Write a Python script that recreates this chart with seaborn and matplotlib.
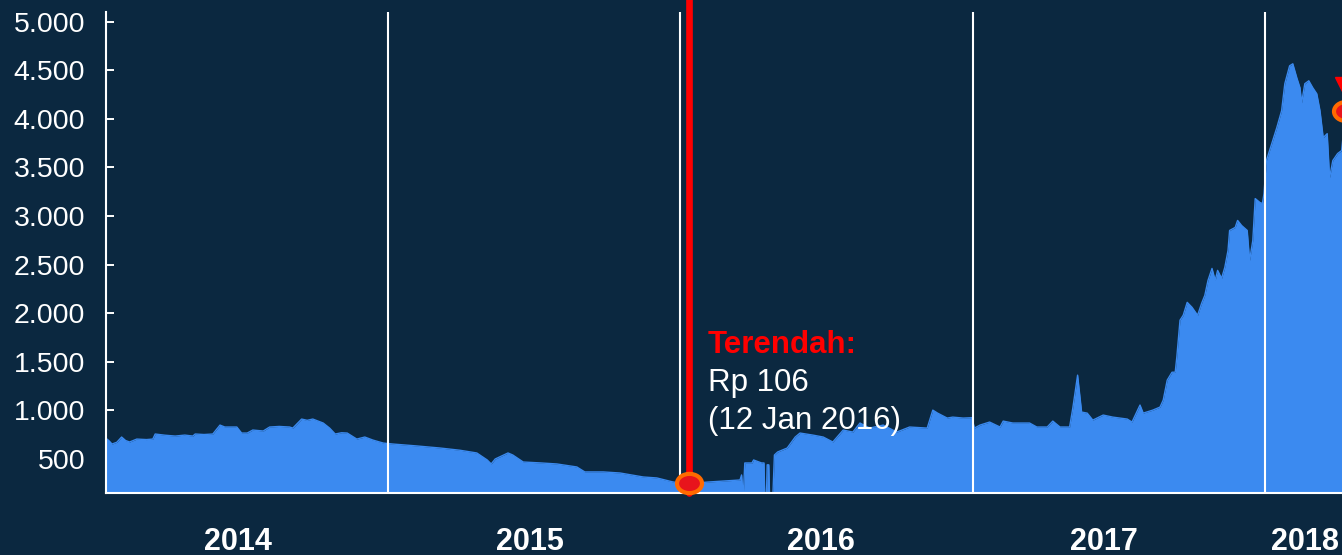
import matplotlib
matplotlib.use("Agg")
import matplotlib.pyplot as plt
import matplotlib.ticker as mticker
from matplotlib.path import Path
from matplotlib.transforms import Affine2D, offset_copy
import pandas as pd
import seaborn as sns

# closing price (Rp)
dates = [
    "2014-01-13", "2014-01-17", "2014-01-21", "2014-01-27", "2014-02-02", "2014-02-07",
    "2014-02-12", "2014-02-21", "2014-03-05", "2014-03-13", "2014-03-16", "2014-03-28",
    "2014-04-10", "2014-04-22", "2014-05-02", "2014-05-05", "2014-05-16", "2014-05-27",
    "2014-06-05", "2014-06-11", "2014-06-26", "2014-07-02", "2014-07-09", "2014-07-16",
    "2014-07-29", "2014-08-06", "2014-08-18", "2014-08-31", "2014-09-04", "2014-09-15",
    "2014-09-22", "2014-09-29", "2014-10-12", "2014-10-20", "2014-10-27", "2014-11-04",
    "2014-11-11", "2014-11-23", "2014-12-03", "2014-12-13", "2014-12-26", "2015-01-07",
    "2015-02-05", "2015-03-07", "2015-04-01", "2015-04-22", "2015-05-05", "2015-05-10",
    "2015-05-15", "2015-05-31", "2015-06-06", "2015-06-19", "2015-07-10", "2015-07-31",
    "2015-08-25", "2015-09-04", "2015-09-27", "2015-10-18", "2015-11-05", "2015-11-16",
    "2015-12-03", "2015-12-23", "2016-01-01", "2016-01-12", "2016-02-07", "2016-03-16",
    "2016-03-18", "2016-03-20", "2016-03-22", "2016-03-31", "2016-04-02", "2016-04-12",
    "2016-04-15", "2016-04-16", "2016-04-18", "2016-04-19", "2016-04-21", "2016-04-22",
    "2016-04-26", "2016-04-28", "2016-05-02", "2016-05-14", "2016-05-24", "2016-05-30",
    "2016-06-15", "2016-06-28", "2016-07-10", "2016-07-23", "2016-08-04", "2016-08-13",
    "2016-08-25", "2016-09-11", "2016-09-28", "2016-10-14", "2016-11-05", "2016-11-12",
    "2016-11-18", "2016-11-30", "2016-12-07", "2016-12-20", "2016-12-31", "2017-01-03",
    "2017-01-10", "2017-01-22", "2017-02-04", "2017-02-08", "2017-02-20", "2017-03-13",
    "2017-03-22", "2017-04-04", "2017-04-11", "2017-04-20", "2017-05-02", "2017-05-06",
    "2017-05-12", "2017-05-17", "2017-05-24", "2017-05-31", "2017-06-13", "2017-06-25",
    "2017-07-13", "2017-07-19", "2017-07-29", "2017-08-02", "2017-08-14", "2017-08-23",
    "2017-08-27", "2017-09-01", "2017-09-07", "2017-09-11", "2017-09-13", "2017-09-17",
    "2017-09-21", "2017-09-26", "2017-10-02", "2017-10-09", "2017-10-14", "2017-10-18",
    "2017-10-22", "2017-10-27", "2017-10-31", "2017-11-03", "2017-11-08", "2017-11-12",
    "2017-11-16", "2017-11-18", "2017-11-25", "2017-11-28", "2017-12-03", "2017-12-10",
    "2017-12-13", "2017-12-17", "2017-12-20", "2017-12-26", "2017-12-29", "2017-12-31",
    "2018-01-03", "2018-01-16", "2018-01-22", "2018-01-26", "2018-02-01", "2018-02-05",
    "2018-02-10", "2018-02-14", "2018-02-16", "2018-02-20", "2018-02-25", "2018-03-02",
    "2018-03-07", "2018-03-11", "2018-03-15", "2018-03-20", "2018-03-23", "2018-03-27",
    "2018-04-02", "2018-04-07", "2018-04-12",
]
prices = [
    716, 690, 654, 672, 726, 690,
    675, 705, 700, 705, 757, 745,
    736, 746, 736, 757, 752, 757,
    849, 829, 829, 767, 767, 798,
    788, 829, 835, 829, 818, 911,
    898, 911, 870, 818, 757, 770,
    767, 705, 726, 695, 664, 654,
    635, 613, 590, 562, 490, 449,
    500, 562, 541, 469, 460, 449,
    418, 367, 367, 356, 330, 315,
    305, 264, 254, 248, 264, 284,
    336, 106, 459, 459, 490, 459,
    459, 106, 106, 440, 440, 106,
    106, 541, 572, 613, 726, 767,
    746, 726, 675, 798, 777, 870,
    818, 849, 777, 829, 818, 1003,
    972, 921, 931, 921, 925, 818,
    849, 880, 829, 890, 870, 870,
    829, 829, 890, 829, 829, 1024,
    1363, 983, 972, 900, 952, 931,
    911, 880, 1055, 972, 1003, 1034,
    1106, 1311, 1393, 1393, 1548, 1928,
    1979, 2112, 2061, 1979, 2102, 2184,
    2338, 2461, 2338, 2441, 2359, 2472,
    2646, 2852, 2883, 2955, 2903, 2852,
    2544, 2749, 3180, 3139, 3129, 3232,
    3571, 3910, 4084, 4362, 4546, 4567,
    4423, 4320, 4166, 4362, 4392, 4320,
    4258, 4084, 3807, 3848, 3396, 3571,
    3643, 3674, 4080,
]

year_starts = ["2015-01-01", "2016-01-01", "2017-01-01", "2018-01-01"]
year_labels = ["2014", "2015", "2016", "2017", "2018"]
year_label_dates = ["2014-06-28", "2015-06-28", "2016-06-25", "2017-06-14", "2018-02-20"]
y_ticks = [500, 1000, 1500, 2000, 2500, 3000, 3500, 4000, 4500, 5000]

low_date = "2016-01-12"
low_price = 248
low_lines = ["Terendah:", "Rp 106", "(12 Jan 2016)"]

BG = "#0b2840"
BLUE = "#3b8af0"
RED = "#ff0000"
ORANGE = "#ff6a00"

df = pd.DataFrame({"date": pd.to_datetime(dates), "price": prices})

sns.set_theme(style="dark")
plt.rcParams["font.family"] = ["Liberation Sans", "DejaVu Sans"]

fig = plt.figure(figsize=(13.42, 5.55), dpi=100)
fig.patch.set_facecolor(BG)
ax = fig.add_axes([106 / 1342, 61.7 / 555, 1 - 106 / 1342, 481.8 / 555])
ax.set_facecolor(BG)

ax.fill_between(df["date"], df["price"], 0, color=BLUE, lw=0, zorder=1)
sns.lineplot(data=df, x="date", y="price", color=BLUE, lw=1, ax=ax, zorder=2)

for d in year_starts:
    ax.axvline(pd.Timestamp(d), color="white", lw=1.5, zorder=3)

# lowest point marker
low_dt = pd.Timestamp(low_date)
ax.axvline(low_dt, ymin=0, ymax=1.05, color=RED, lw=4.8, zorder=4, clip_on=False)
oval = Path.unit_circle().transformed(Affine2D().scale(1.3, 1.0))
ax.plot([low_dt], [low_price], marker=oval, ms=18, mfc="#e8141c", mec=ORANGE,
        mew=3, zorder=5, clip_on=False)

# last point (cut off at the right edge)
last_dt, last_val = df["date"].iloc[-1], df["price"].iloc[-1]
ax.plot([last_dt], [last_val], marker=oval, ms=18, mfc="#e8141c", mec=ORANGE,
        mew=3, zorder=5, clip_on=False)
up = offset_copy(ax.transData, fig=fig, x=0, y=23, units="dots")
ax.plot([last_dt], [last_val], marker="v", ms=16, color=RED, lw=0,
        transform=up, zorder=5, clip_on=False)

txt_tr = offset_copy(ax.get_xaxis_transform(), fig=fig, x=19, y=0, units="dots")
ax.text(low_dt, 0.291, low_lines[0], color=RED, fontsize=22.5, fontweight="bold",
        va="baseline", ha="left", transform=txt_tr)
ax.text(low_dt, 0.212, low_lines[1], color="white", fontsize=22.5,
        va="baseline", ha="left", transform=txt_tr)
ax.text(low_dt, 0.133, low_lines[2], color="white", fontsize=22.5,
        va="baseline", ha="left", transform=txt_tr)

ax.set_xlim(pd.Timestamp("2014-01-13 12:00"), pd.Timestamp("2018-04-07 12:00"))
ax.set_ylim(147, 5105)

ax.set_yticks(y_ticks)
ax.yaxis.set_major_formatter(mticker.FuncFormatter(lambda v, p: f"{v:,.0f}".replace(",", ".")))
ax.tick_params(axis="y", direction="in", length=6, width=1.4, color="white",
               labelcolor="white", labelsize=20.5, pad=15, left=True)

ax.set_xticks(pd.to_datetime(year_label_dates))
ax.set_xticklabels(year_labels, fontweight="bold")
ax.tick_params(axis="x", length=0, labelcolor="white", labelsize=22, pad=24)

ax.set_xlabel("")
ax.set_ylabel("")
ax.grid(False)
for side in ["top", "right"]:
    ax.spines[side].set_visible(False)
for side in ["left", "bottom"]:
    ax.spines[side].set_visible(True)
    ax.spines[side].set_color("white")
    ax.spines[side].set_linewidth(1.5)

fig.savefig("out.png", dpi=100, facecolor=BG)
